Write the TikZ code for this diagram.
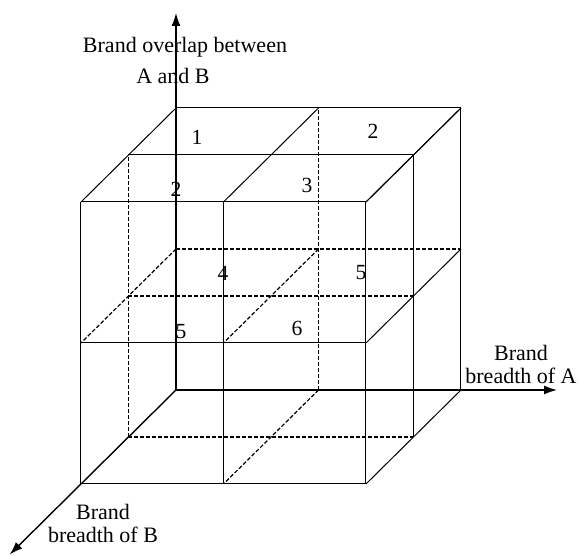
\documentclass[tikz,border=0pt]{standalone}
\usepackage{fontspec}
\setmainfont{Liberation Serif}
\usetikzlibrary{arrows.meta}
\tikzset
{
  edge/.style={draw=black,line width=0.5pt},
  hidden/.style={edge,line width=0.6pt,dash pattern=on 2pt off 1pt},
  axis/.style={draw=black,line width=0.7pt,-{Latex[length=6.5pt,width=4.5pt]}},
  cell/.style={font=\fontsize{10.8}{13}\selectfont,inner sep=0pt},
  axislabel/.style={font=\fontsize{11}{11.5}\selectfont,align=center,inner sep=0pt}
}

\begin{document}
\begin{tikzpicture}[x={(71.25pt,0pt)},y={(0pt,70.5pt)},z={(-23.75pt,-23.5pt)}]
  \useasboundingbox (-88pt,-83pt) rectangle (202pt,195pt);

  % Axes
  \coordinate (O) at (0,0,0);
  \coordinate (tipA) at (2.674,0,0);
  \coordinate (tipOv) at (0,2.674,0);
  \coordinate (tipB) at (0,0,3.5);
  \draw[axis] (O) -- (tipOv);
  \draw[axis] (O) -- (tipA);
  \draw[axis] (O) -- (tipB);

  % Visible faces: top, front and right
  \foreach \c in {0,1,2}
  {
    \draw[edge] (0,2,\c) -- (2,2,\c);
    \draw[edge] (\c,2,0) -- (\c,2,2);
    \draw[edge] (0,\c,2) -- (2,\c,2);
    \draw[edge] (\c,0,2) -- (\c,2,2);
    \draw[edge] (2,\c,0) -- (2,\c,2);
    \draw[edge] (2,0,\c) -- (2,2,\c);
  }

  % Hidden edges
  \draw[hidden] (1,0,0) -- (1,2,0);
  \draw[hidden] (0,0,1) -- (0,2,1);
  \draw[hidden] (0,1,0) -- (2,1,0);
  \draw[hidden] (0,1,1) -- (2,1,1);
  \draw[hidden] (0,1,0) -- (0,1,2);
  \draw[hidden] (1,1,0) -- (1,1,2);
  \draw[hidden] (0,0,1) -- (2,0,1);
  \draw[hidden] (1,0,0) -- (1,0,2);

  % Cell numbers
  \node[cell] (c1) at (10.5pt,126.5pt) {1};
  \node[cell] (c2) at (98.5pt,129.5pt) {2};
  \node[cell] (c2f) at (0pt,100.5pt) {2};
  \node[cell] (c3) at (65.5pt,102.5pt) {3};
  \node[cell] (c4) at (23.5pt,58.5pt) {4};
  \node[cell] (c5) at (92.5pt,58.5pt) {5};
  \node[cell] (c5f) at (2.5pt,29pt) {5};
  \node[cell] (c6) at (60.5pt,31pt) {6};

  % Axis labels
  \node[axislabel] (labOv) at (4.5pt,171.5pt) {Brand overlap between};
  \node[axislabel] (labAB) at (-1.5pt,157pt) {A and B};
  \node[axislabel] (labA) at (172.5pt,13pt) {Brand\\breadth of A};
  \node[axislabel] (labB) at (-36.5pt,-66.5pt) {Brand\\breadth of B};
\end{tikzpicture}
\end{document}
